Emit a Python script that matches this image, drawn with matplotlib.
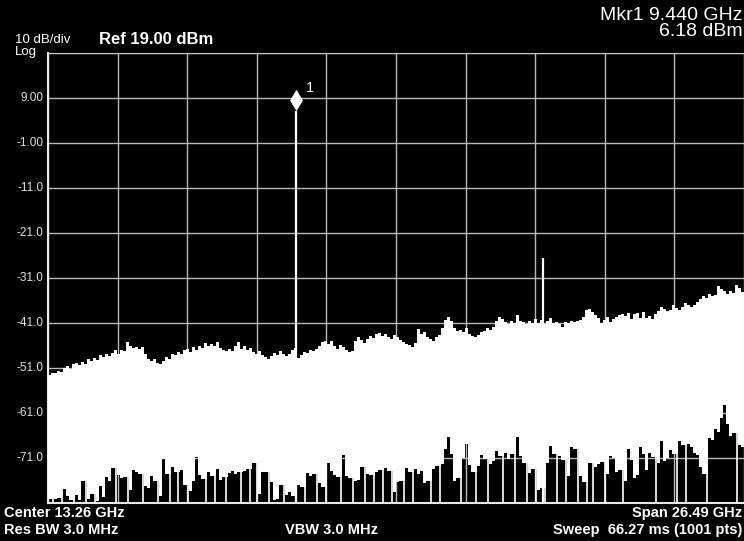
import numpy as np
import matplotlib.pyplot as plt
from matplotlib import transforms

plt.rcParams['font.family'] = ['Liberation Sans', 'DejaVu Sans']

W, H = 744, 541

center_ghz = 13.26
span_ghz = 26.49
ref_dbm = 19.0
db_div = 10.0

# max-hold trace, upper edge (dBm), 232 display columns
hi = [-52.5, -52.2, -52.0, -51.6, -51.9, -51.0, -50.6, -51.3, -50.2, -49.8,
      -50.4, -49.6, -50.0, -48.9, -49.5, -48.8, -49.2, -48.2, -48.6, -47.9,
      -48.3, -47.6, -47.0, -47.8, -46.9, -47.3, -45.2, -46.0, -46.6, -46.4,
      -46.8, -46.3, -47.9, -49.1, -49.5, -49.0, -49.8, -50.2, -49.4, -48.6,
      -48.9, -47.8, -48.2, -47.4, -47.9, -47.0, -46.8, -47.5, -46.3, -46.9,
      -46.1, -46.6, -45.4, -46.2, -45.6, -46.0, -45.3, -46.5, -46.9, -47.2,
      -46.8, -47.3, -46.0, -45.2, -46.7, -46.2, -47.0, -46.5, -47.4, -47.8,
      -47.2, -48.0, -48.5, -49.0, -48.4, -47.6, -48.2, -47.3, -47.9, -48.3,
      -47.8, -47.0, -46.5, -48.8, -48.0, -47.4, -47.6, -47.1, -47.3, -46.8,
      -46.0, -45.3, -44.9, -45.6, -45.0, -46.2, -46.7, -45.8, -46.4, -47.0,
      -47.5, -47.2, -45.0, -44.2, -44.8, -45.4, -44.6, -43.9, -44.3, -43.5,
      -43.2, -43.8, -43.4, -44.0, -44.6, -43.7, -44.1, -44.8, -45.2, -45.6,
      -45.9, -46.3, -45.4, -42.4, -43.5, -43.0, -44.0, -44.6, -45.0, -44.2,
      -43.6, -42.0, -40.4, -39.7, -40.6, -42.0, -42.8, -42.5, -43.0, -42.2,
      -43.4, -43.9, -44.1, -43.6, -43.0, -42.8, -42.2, -42.6, -41.8, -40.6,
      -39.7, -40.0, -40.8, -41.2, -40.5, -40.9, -39.3, -40.6, -40.8, -41.3,
      -40.5, -41.0, -40.2, -40.9, -40.4, -41.2, -40.6, -39.9, -41.1, -40.7,
      -41.3, -41.9, -40.8, -40.9, -40.6, -40.8, -40.5, -40.3, -39.6, -38.2,
      -37.8, -38.6, -39.2, -39.8, -41.0, -40.4, -39.6, -40.8, -40.1, -39.7,
      -39.2, -38.9, -39.5, -38.8, -40.0, -39.1, -38.7, -39.8, -38.6, -39.9,
      -39.4, -40.0, -39.1, -38.3, -37.5, -37.9, -38.4, -38.2, -37.1, -37.6,
      -38.0, -37.4, -36.6, -36.9, -37.5, -37.0, -36.3, -35.6, -35.0, -35.4,
      -34.6, -35.1, -34.8, -32.7, -33.4, -33.9, -34.5, -33.8, -34.3, -32.6,
      -33.2, -34.2]

# min trace, lower edge (dBm); -81 = down to the bottom of the screen
lo = [-80.2, -81.0, -80.0, -79.8, -81.0, -77.8, -79.5, -80.4, -81.0, -79.2,
      -80.3, -76.0, -81.0, -80.1, -79.0, -81.0, -80.5, -77.2, -79.6,
      -75.2, -76.0, -73.2, -81.0, -74.8, -75.5, -75.2, -81.0, -78.0, -73.7,
      -74.0, -74.6, -81.0, -77.2, -77.6, -75.0, -76.0, -81.0, -79.5, -71.2,
      -74.5, -81.0, -73.0, -74.2, -81.0, -73.7, -77.0, -81.0, -78.4, -76.2,
      -70.8, -74.8, -75.6, -81.0, -74.2, -75.0, -81.0, -73.5, -75.8,
      -75.2, -81.0, -74.3, -73.9, -74.6, -74.0, -81.0, -73.8, -73.4, -81.0,
      -72.0, -81.0, -79.0, -74.2, -74.0, -81.0, -76.3, -80.3, -80.0, -77.0,
      -81.0, -79.2, -78.6, -79.4, -81.0, -77.0, -77.5, -81.0, -74.4, -75.0,
      -74.6, -81.0, -76.5, -77.4, -81.0, -72.2, -73.8, -74.8, -75.2, -81.0,
      -70.4, -75.0, -75.4, -81.0, -76.0, -75.8, -73.0, -81.0, -74.5, -74.8,
      -81.0, -74.0, -73.6, -81.0, -73.3, -73.8, -81.0, -78.5,
      -76.4, -76.0, -81.0, -73.3, -74.0, -81.0, -73.5, -74.6, -73.8, -76.6,
      -76.0, -81.0, -73.4, -72.8, -81.0, -72.4, -69.0, -66.3, -70.0, -76.0,
      -75.5, -81.0, -71.0, -67.8, -72.6, -74.0, -81.0, -72.8, -70.4, -71.2,
      -81.0, -72.3, -71.6, -69.4, -70.6, -81.0, -69.8, -71.2, -70.2, -81.0,
      -66.3, -70.5, -72.0, -81.0, -74.4, -73.5, -81.0, -78.0, -77.6, -81.0,
      -72.0, -68.4, -70.2, -81.0, -70.5, -71.4, -81.0, -75.0,
      -68.5, -69.0, -81.0, -75.0, -76.4, -81.0, -72.0, -81.0, -73.0, -72.4,
      -71.8, -81.0, -74.6, -70.5, -71.0, -74.0, -73.6, -81.0, -76.0, -69.1,
      -71.5, -75.5, -74.8, -68.6, -70.2, -73.6, -69.9, -70.8, -81.0, -72.0,
      -67.3, -71.6, -70.9, -69.3, -70.0, -81.0, -67.3, -68.2, -81.0, -67.8,
      -68.6, -69.9, -70.4, -73.0, -74.5, -81.0, -66.5, -67.0, -64.5, -65.2,
      -62.0, -59.2, -63.5, -66.0, -65.4, -81.0, -68.0, -68.6]

# discrete signals (GHz, dBm)
sig_ghz = [9.44, 18.87]
sig_dbm = [6.18, -26.6]

ytick_vals = [9, -1, -11, -21, -31, -41, -51, -61, -71]
ytick_lbls = ['9.00', '-1.00', '-11.0', '-21.0', '-31.0', '-41.0', '-51.0', '-61.0', '-71.0']

f0 = center_ghz - span_ghz / 2
f1 = center_ghz + span_ghz / 2
bot = ref_dbm - 10 * db_div

ncol = len(hi)
step = span_ghz / ncol
left = f0 + step * np.arange(ncol)
hi = np.array(hi)
lo = np.array(lo)

# columns that drop to the bottom are drawn as thin lines, not full-width
deep = lo <= bot
lo_fill = lo.copy()
for i in np.where(deep)[0]:
    lo_fill[i] = lo_fill[i - 1] if i > 0 else lo[i + 1]

fig = plt.figure(figsize=(W / 100, H / 100), dpi=100, facecolor='black')
ax = fig.add_axes([48 / W, 38 / H, 696 / W, 450 / H], facecolor='black')

ax.set_xlim(f0, f1)
ax.set_ylim(bot, ref_dbm)
ax.set_xticks(np.linspace(f0, f1, 11))
ax.set_yticks(np.arange(bot, ref_dbm + 1, db_div))
ax.grid(True, color='#b8b8b8', lw=1)
ax.set_axisbelow(True)
ax.tick_params(length=0, labelbottom=False, labelleft=False)

xe = np.append(left, f1)
ax.fill_between(xe, np.append(lo_fill, lo_fill[-1]), np.append(hi, hi[-1]),
                step='post', color='white', lw=0, zorder=3)
ax.vlines(left[deep] + step / 2, bot, hi[deep], color='white', lw=1.2, zorder=3)
ax.vlines(sig_ghz, bot, sig_dbm, color='white', lw=1.6, zorder=4)

# marker 1
off = transforms.offset_copy(ax.transData, fig=fig, y=7.4, units='points')
ax.plot(sig_ghz[0], sig_dbm[0], marker='d', ms=10.6, color='white',
        mec='white', mew=0.5, transform=off, zorder=5, clip_on=False)
ax.annotate('1', (sig_ghz[0], sig_dbm[0]), xytext=(7.5, 16.5), textcoords='offset points',
            color='white', fontsize=10.5, ha='left', va='center')

for s in ['left', 'bottom']:
    ax.spines[s].set_color('#e8e8e8')
    ax.spines[s].set_linewidth(1.5)
ax.spines['top'].set_color('#c8c8c8')
ax.spines['right'].set_visible(False)

for v, t in zip(ytick_vals, ytick_lbls):
    ax.text(-0.007, (v - bot) / (ref_dbm - bot), t, transform=ax.transAxes,
            ha='right', va='center', color='#e0e0e0', fontsize=8.5)


def ftext(x, y, s, **kw):
    fig.text(x / W, 1 - y / H, s, color='white', va='center', **kw)


ftext(15, 40, '10 dB/div', fontsize=9.5)
ftext(15, 52.5, 'Log', fontsize=9.5)
ftext(99, 40, 'Ref 19.00 dBm', fontsize=12, fontweight='bold')
ftext(743, 15, 'Mkr1 9.440 GHz', fontsize=14, ha='right')
ftext(743, 32, '6.18 dBm', fontsize=14, ha='right')

bf = dict(fontsize=10.5, fontweight='bold')
ftext(4, 513, 'Center 13.26 GHz', **bf)
ftext(742, 513, 'Span 26.49 GHz', ha='right', **bf)
ftext(4, 530, 'Res BW 3.0 MHz', **bf)
ftext(285, 530, 'VBW 3.0 MHz', **bf)
ftext(742, 530, 'Sweep  66.27 ms (1001 pts)', ha='right', **bf)

fig.savefig('out.png', dpi=100, facecolor='black')
